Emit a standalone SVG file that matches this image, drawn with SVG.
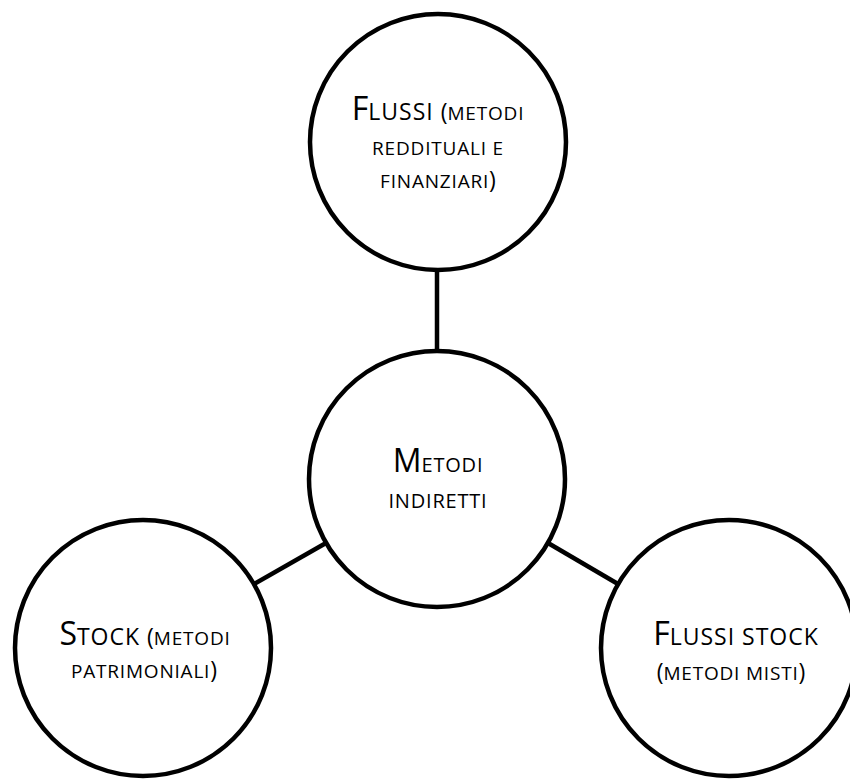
<svg xmlns="http://www.w3.org/2000/svg" width="850" height="780" viewBox="0 0 850 780">
<style>
.c{fill:#fff;stroke:#000;stroke-width:4.5}
.k{stroke:#000;stroke-width:4.5;fill:none}
text{font-family:"Open Sans","Liberation Sans",sans-serif;fill:#000;text-anchor:middle}
.L{font-size:32px}
.M{font-size:23px;letter-spacing:1px}
.S{font-size:19px;letter-spacing:0.8px}
.P{font-size:23px}
</style>
<rect width="850" height="780" fill="#fff"/>
<g id="connectors">
<line class="k" x1="437" y1="270" x2="437" y2="352"/>
<line class="k" x1="326" y1="543" x2="254" y2="584"/>
<line class="k" x1="548" y1="543" x2="618" y2="584"/>
</g>
<g id="flussi">
<circle class="c" cx="438" cy="142" r="128"/>
<text x="438" y="120"><tspan class="L">F</tspan><tspan class="M">LUSSI </tspan><tspan class="P">(</tspan><tspan class="S">METODI</tspan></text>
<text x="438" y="155"><tspan class="S">REDDITUALI E</tspan></text>
<text x="438" y="188"><tspan class="S">FINANZIARI</tspan><tspan class="P">)</tspan></text>
</g>
<g id="metodi-indiretti">
<circle class="c" cx="437" cy="479" r="128"/>
<text x="438" y="472"><tspan class="L">M</tspan><tspan class="S" style="font-size:20px">ETODI</tspan></text>
<text x="438" y="508"><tspan class="S" style="font-size:20px">INDIRETTI</tspan></text>
</g>
<g id="stock">
<circle class="c" cx="143" cy="648" r="128"/>
<text x="145" y="645"><tspan class="L">S</tspan><tspan class="M">TOCK </tspan><tspan class="P">(</tspan><tspan class="S">METODI</tspan></text>
<text x="144" y="678"><tspan class="S">PATRIMONIALI</tspan><tspan class="P">)</tspan></text>
</g>
<g id="flussi-stock">
<circle class="c" cx="729" cy="648" r="128"/>
<text x="736" y="645"><tspan class="L">F</tspan><tspan class="M">LUSSI STOCK</tspan></text>
<text x="731" y="680"><tspan class="P">(</tspan><tspan class="S">METODI MISTI</tspan><tspan class="P">)</tspan></text>
</g>
</svg>
